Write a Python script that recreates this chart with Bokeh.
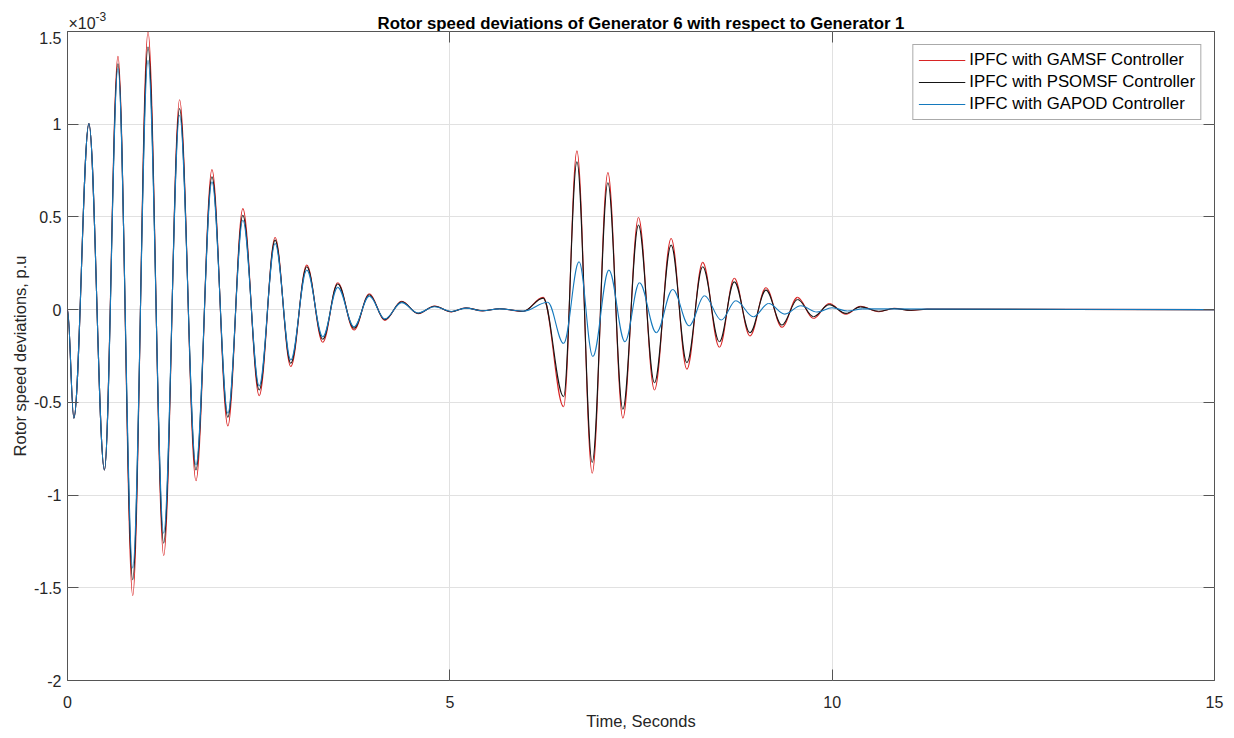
import numpy as np
from bokeh.plotting import figure
from bokeh.layouts import column
from bokeh.models import FixedTicker, LinearAxis, Legend, LegendItem, ColumnDataSource
from bokeh.core.properties import value
from bokeh.embed import file_html
from bokeh.resources import INLINE

# ---------------- data (values in units of 1e-3 p.u.) ----------------
title_text = "Rotor speed deviations of Generator 6 with respect to Generator 1"
exponent_base = "×10"
exponent_power = "-3"
x_label = "Time, Seconds"
y_label = "Rotor speed deviations, p.u"
series_names = ["IPFC with GAMSF Controller", "IPFC with PSOMSF Controller", "IPFC with GAPOD Controller"]
x_ticks = [0, 5, 10, 15]
y_ticks = [-2, -1.5, -1, -0.5, 0, 0.5, 1, 1.5]
y_tick_labels = ["-2", "-1.5", "-1", "-0.5", "0", "0.5", "1", "1.5"]

# successive extrema (time, value)
t_gamsf = [0, 0.083, 0.28, 0.483, 0.66, 0.853, 1.053, 1.258, 1.466, 1.68, 1.889, 2.097, 2.293, 2.507,
           2.715, 2.92, 3.129, 3.338, 3.534, 3.747, 3.947, 4.15, 4.37, 4.586, 4.80, 5.02, 5.21, 5.43,
           5.65, 5.96, 6.22, 6.488, 6.662, 6.862, 7.067, 7.263, 7.467, 7.676, 7.894, 8.10, 8.307, 8.525,
           8.72, 8.925, 9.134, 9.343, 9.547, 9.756, 9.961, 10.18, 10.37, 10.61, 10.81, 11.03, 11.24, 15.0]
v_gamsf = [0, -0.585, 1.003, -0.864, 1.366, -1.542, 1.497, -1.327, 1.132, -0.923, 0.755, -0.627, 0.545, -0.464,
           0.389, -0.307, 0.240, -0.176, 0.145, -0.110, 0.086, -0.058, 0.045, -0.022, 0.020, -0.012, 0.010, -0.007,
           0.005, -0.010, 0.066, -0.523, 0.856, -0.882, 0.739, -0.585, 0.497, -0.433, 0.384, -0.321, 0.255, -0.203,
           0.169, -0.142, 0.118, -0.095, 0.066, -0.048, 0.033, -0.025, 0.018, -0.011, 0.007, -0.004, 0.003, 0]

t_psomsf = [0, 0.083, 0.28, 0.483, 0.66, 0.853, 1.053, 1.258, 1.466, 1.68, 1.889, 2.097, 2.293, 2.507,
            2.715, 2.92, 3.129, 3.338, 3.534, 3.747, 3.947, 4.15, 4.37, 4.586, 4.80, 5.02, 5.21, 5.43,
            5.65, 5.96, 6.22, 6.488, 6.662, 6.862, 7.067, 7.263, 7.467, 7.676, 7.894, 8.10, 8.307, 8.525,
            8.72, 8.925, 9.134, 9.343, 9.547, 9.756, 9.961, 10.18, 10.37, 10.61, 10.81, 11.03, 11.24, 15.0]
v_psomsf = [0, -0.585, 1.003, -0.864, 1.326, -1.456, 1.416, -1.259, 1.084, -0.864, 0.716, -0.580, 0.509, -0.433,
            0.375, -0.289, 0.231, -0.160, 0.138, -0.100, 0.080, -0.054, 0.042, -0.020, 0.018, -0.011, 0.009, -0.006,
            0.005, -0.009, 0.062, -0.469, 0.797, -0.824, 0.684, -0.537, 0.456, -0.394, 0.348, -0.286, 0.231, -0.173,
            0.150, -0.124, 0.105, -0.083, 0.055, -0.038, 0.027, -0.020, 0.015, -0.009, 0.006, -0.003, 0.002, 0]

t_gapod = [0, 0.083, 0.28, 0.483, 0.66, 0.853, 1.053, 1.258, 1.466, 1.68, 1.889, 2.097, 2.293, 2.507,
           2.715, 2.92, 3.129, 3.338, 3.534, 3.747, 3.947, 4.15, 4.37, 4.586, 4.80, 5.02, 5.21, 5.43,
           5.65, 5.96, 6.28, 6.488, 6.69, 6.87, 7.08, 7.29, 7.48, 7.70, 7.915, 8.13, 8.33, 8.55,
           8.74, 8.97, 9.17, 9.38, 9.59, 9.80, 10.0, 10.2, 10.4, 15.0]
v_gapod = [0, -0.585, 1.003, -0.864, 1.300, -1.393, 1.344, -1.205, 1.048, -0.837, 0.689, -0.559, 0.482, -0.411,
           0.357, -0.271, 0.213, -0.146, 0.120, -0.092, 0.073, -0.050, 0.038, -0.018, 0.016, -0.010, 0.008, -0.006,
           0.004, -0.008, 0.040, -0.182, 0.258, -0.253, 0.213, -0.173, 0.145, -0.124, 0.109, -0.087, 0.075, -0.056,
           0.048, -0.038, 0.033, -0.024, 0.021, -0.013, 0.010, -0.007, 0.004, 0]

colors = ["#d82424", "#151515", "#1479bd"]

FONT = "Liberation Sans"
K = 1 - 2 / np.pi  # bezier handle fraction giving a sine-like half wave

X_RANGE = (0, 15)
FRAME_W = 1147
LEFT, RIGHT = 67, 20
HEAD_H = 31


def bezier_source(t, v):
    t = np.asarray(t, float)
    v = np.asarray(v, float)
    x0, x1 = t[:-1], t[1:]
    y0, y1 = v[:-1], v[1:]
    d = x1 - x0
    return ColumnDataSource(dict(x0=x0, y0=y0, x1=x1, y1=y1,
                                 cx0=x0 + K * d, cy0=y0, cx1=x1 - K * d, cy1=y1))


# ---------------- header strip: title and axis exponent ----------------
head = figure(frame_width=FRAME_W, frame_height=HEAD_H, x_range=X_RANGE, y_range=(0, HEAD_H),
              x_axis_type=None, y_axis_type=None, output_backend="svg", toolbar_location=None,
              min_border=0, min_border_left=LEFT, min_border_right=RIGHT,
              min_border_top=0, min_border_bottom=0,
              background_fill_color="white", border_fill_color="white")
head.outline_line_color = None
head.text(x=[(X_RANGE[0] + X_RANGE[1]) / 2], y=[8.5], text=[title_text], text_align="center",
          text_baseline="alphabetic", text_font=value(FONT), text_font_size="16.8px",
          text_font_style="bold", text_color="#000000")
head.text(x=[X_RANGE[0]], y=[8], text=[exponent_base], x_offset=1, text_align="left",
          text_baseline="alphabetic", text_font=value(FONT), text_font_size="16px", text_color="#262626")
head.text(x=[X_RANGE[0]], y=[15.5], text=[exponent_power], x_offset=28, text_align="left",
          text_baseline="alphabetic", text_font=value(FONT), text_font_size="12px", text_color="#262626")

# ---------------- main plot ----------------
p = figure(frame_width=FRAME_W, frame_height=649, x_range=X_RANGE, y_range=(-2, 1.5),
           output_backend="svg", toolbar_location=None,
           min_border=0, min_border_left=LEFT, min_border_right=RIGHT, min_border_bottom=55,
           background_fill_color="white", border_fill_color="white")

p.outline_line_color = "#555555"
p.outline_line_width = 1

axis_color = "#555555"
for ax in p.xaxis + p.yaxis:
    ax.axis_line_color = None
    ax.major_tick_in = 11
    ax.major_tick_out = 0
    ax.minor_tick_in = 0
    ax.minor_tick_out = 0
    ax.minor_tick_line_color = None
    ax.major_tick_line_color = axis_color
    ax.major_label_text_font = FONT
    ax.major_label_text_font_size = "16px"
    ax.major_label_text_color = "#262626"
    ax.axis_label_text_font = FONT
    ax.axis_label_text_font_size = "16.5px"
    ax.axis_label_text_font_style = "normal"
    ax.axis_label_text_color = "#262626"

p.xaxis.ticker = FixedTicker(ticks=x_ticks)
p.yaxis.ticker = FixedTicker(ticks=y_ticks)
p.yaxis.major_label_overrides = {tk: lab for tk, lab in zip(y_ticks, y_tick_labels)}
p.xaxis.axis_label = x_label
p.yaxis.axis_label = y_label
p.xaxis.major_label_standoff = 15
p.yaxis.major_label_standoff = 6
p.xaxis.axis_label_standoff = 1
p.yaxis.axis_label_standoff = 2

# mirrored tick marks on top and right (box style)
for loc, tk in (("above", x_ticks), ("right", y_ticks)):
    ax = LinearAxis(ticker=FixedTicker(ticks=tk))
    ax.axis_line_color = None
    ax.major_tick_in = 11
    ax.major_tick_out = 0
    ax.minor_tick_in = 0
    ax.minor_tick_out = 0
    ax.minor_tick_line_color = None
    ax.major_tick_line_color = axis_color
    ax.major_label_overrides = {t: "" for t in tk}
    ax.major_label_text_font_size = "1px"
    ax.major_label_standoff = 0
    p.add_layout(ax, loc)

p.xgrid.ticker = FixedTicker(ticks=x_ticks)
p.ygrid.ticker = FixedTicker(ticks=y_ticks)
p.grid.grid_line_color = "#e1e1e1"
p.grid.grid_line_width = 1

# curves: GAMSF first, then PSOMSF, GAPOD on top
series = [(t_gamsf, v_gamsf), (t_psomsf, v_psomsf), (t_gapod, v_gapod)]
for (t, v), c in zip(series, colors):
    p.bezier(x0="x0", y0="y0", x1="x1", y1="y1", cx0="cx0", cy0="cy0", cx1="cx1", cy1="cy1",
             source=bezier_source(t, v), line_color=c, line_width=1.1)

# legend swatches (proxy lines holding no drawable point)
items = []
for name, c in zip(series_names, colors):
    proxy = p.line(x=[np.nan], y=[np.nan], line_color=c, line_width=1.2)
    items.append(LegendItem(label=name, renderers=[proxy]))
legend = Legend(items=items, location="top_right")
legend.margin = 13
legend.padding = 5
legend.spacing = 2
legend.glyph_width = 47
legend.glyph_height = 18
legend.label_height = 18
legend.label_standoff = 4
legend.label_text_font = FONT
legend.label_text_font_size = "16.8px"
legend.label_text_color = "#000000"
legend.border_line_color = "#555555"
legend.border_line_width = 1
legend.background_fill_alpha = 1
p.add_layout(legend, "center")

page = column(head, p, spacing=0)
open("out.html", "w").write(file_html(page, INLINE))
